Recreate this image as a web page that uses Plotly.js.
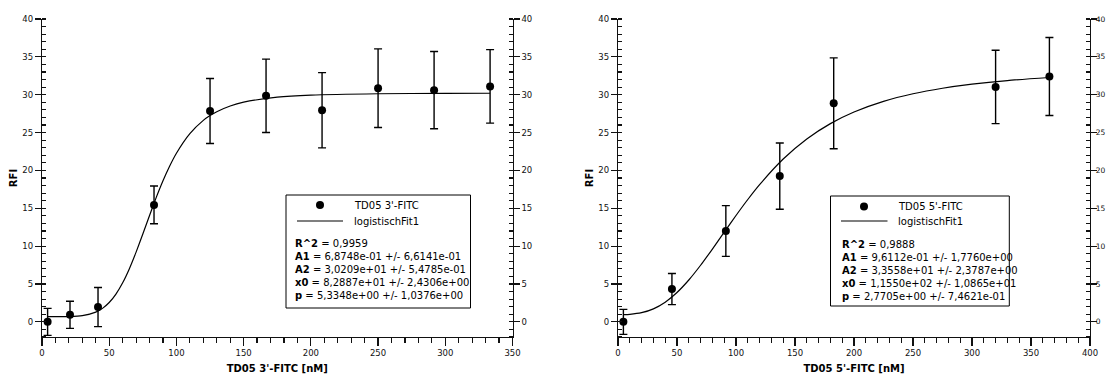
<!DOCTYPE html>
<html>
<head>
<meta charset="utf-8">
<script src="https://cdn.plot.ly/plotly-3.0.1.min.js"></script>
<style>
  html, body { margin: 0; padding: 0; background: #fff; }
  #chart { width: 1108px; height: 374px; }
</style>
</head>
<body>
<div id="chart"></div>
<script>
// ---- Left panel: TD05 3'-FITC ----
const conc3 = [4.17, 20.83, 41.67, 83.33, 125, 166.67, 208.33, 250, 291.67, 333.33];
const rfi3  = [0.0, 0.93, 1.95, 15.45, 27.85, 29.85, 27.95, 30.86, 30.6, 31.1];
const err3  = [1.78, 1.79, 2.58, 2.5, 4.3, 4.85, 4.97, 5.2, 5.1, 4.85];
const fitX3 = [4.17, 20, 30, 40, 45, 50, 55, 60, 65, 70, 75, 80, 85, 90, 95, 100, 110, 120, 125, 130, 140, 150, 175, 200, 250, 300, 333.33];
const fitY3 = [0.687, 0.702, 0.817, 1.281, 1.780, 2.553, 3.663, 5.157, 7.026, 9.211, 11.600, 14.056, 16.438, 18.639, 20.594, 22.277, 24.866, 26.608, 27.242, 27.756, 28.511, 29.013, 29.671, 29.943, 30.127, 30.178, 30.191];
const stats3 = ["<b>R^2</b> = 0,9959",
                "<b>A1</b> = 6,8748e-01 +/- 6,6141e-01",
                "<b>A2</b> = 3,0209e+01 +/- 5,4785e-01",
                "<b>x0</b> = 8,2887e+01 +/- 2,4306e+00",
                "<b>p</b> = 5,3348e+00 +/- 1,0376e+00"];

// ---- Right panel: TD05 5'-FITC ----
const conc5 = [4.57, 45.7, 91.4, 137.1, 182.8, 320, 365.6];
const rfi5  = [0.0, 4.33, 12.0, 19.25, 28.87, 31.03, 32.4];
const err5  = [1.65, 2.05, 3.35, 4.37, 6.0, 4.85, 5.15];
const fitX5 = [4.57, 10, 20, 30, 40, 50, 60, 70, 80, 90, 100, 110, 120, 140, 160, 180, 200, 225, 250, 275, 300, 330, 365.6];
const fitY5 = [0.965, 0.998, 1.212, 1.721, 2.602, 3.879, 5.529, 7.475, 9.617, 11.841, 14.049, 16.160, 18.122, 21.503, 24.155, 26.181, 27.714, 29.119, 30.125, 30.855, 31.396, 31.872, 32.272];
const stats5 = ["<b>R^2</b> = 0,9888",
                "<b>A1</b> = 9,6112e-01 +/- 1,7760e+00",
                "<b>A2</b> = 3,3558e+01 +/- 2,3787e+00",
                "<b>x0</b> = 1,1550e+02 +/- 1,0865e+01",
                "<b>p</b> = 2,7705e+00 +/- 7,4621e-01"];

const names = ["TD05 3'-FITC", "TD05 5'-FITC"];
const fitName = "logistischFit1";
const xTitles = ["<b>TD05 3'-FITC [nM]</b>", "<b>TD05 5'-FITC [nM]</b>"];
const yTitle = "<b>RFI</b>";

const W = 1108, H = 374;
const px = v => v / W;
const py = v => 1 - v / H;
const FONT = "DejaVu Sans, Verdana, sans-serif";
const INK = "#111";

function pointTrace(x, y, e, name, xa, ya) {
  return {
    type: 'scatter', mode: 'markers', x: x, y: y, name: name,
    xaxis: xa, yaxis: ya, showlegend: false,
    marker: { color: '#000', size: 8 },
    error_y: { type: 'data', array: e, visible: true, color: '#000', thickness: 1.4, width: 4 },
    cliponaxis: false
  };
}
function fitTrace(x, y, xa, ya) {
  return {
    type: 'scatter', mode: 'lines', x: x, y: y, name: fitName,
    xaxis: xa, yaxis: ya, showlegend: false,
    line: { color: '#000', width: 1.2, shape: 'spline', smoothing: 0.6 }
  };
}

// fit curves are drawn on the mirrored right-hand axes (identical range) so those axes render
const data = [
  pointTrace(conc3, rfi3, err3, names[0], 'x', 'y'),
  fitTrace(fitX3, fitY3, 'x', 'y2'),
  pointTrace(conc5, rfi5, err5, names[1], 'x2', 'y3'),
  fitTrace(fitX5, fitY5, 'x2', 'y4')
];

const yDom = [py(337), py(19)];
function xAxis(domain, range, title, anchor) {
  return {
    domain: domain, range: range, anchor: anchor,
    showline: true, linecolor: INK, linewidth: 1.2,
    showgrid: false, zeroline: false,
    ticks: 'outside', ticklen: 8, tickwidth: 1.2, tickcolor: INK,
    dtick: 50, tick0: 0,
    minor: { ticks: 'outside', ticklen: 5, tickwidth: 1.2, tickcolor: INK, dtick: 10, showgrid: false },
    tickfont: { family: FONT, size: 8.5, color: INK },
    title: { text: title, font: { family: FONT, size: 10, color: '#000' }, standoff: 10 }
  };
}
function yAxis(anchor, side, overlaying, title, fs, lso) {
  const a = {
    domain: yDom, range: [-2, 40], anchor: anchor, side: side,
    showline: true, linecolor: INK, linewidth: 1.2,
    showgrid: false, zeroline: false,
    ticks: 'outside', ticklen: 6, tickwidth: 1.2, tickcolor: INK,
    dtick: 5, tick0: 0,
    minor: { ticks: 'inside', ticklen: 4, tickwidth: 1.2, tickcolor: INK, dtick: 1, showgrid: false },
    tickfont: { family: FONT, size: fs || 8.5, color: INK },
    ticklabelstandoff: lso || 0,
    fixedrange: true
  };
  if (overlaying) a.overlaying = overlaying;
  if (title) a.title = { text: title, font: { family: FONT, size: 10, color: '#000' }, standoff: 2 };
  return a;
}

function txt(x, y, s) {
  return { xref: 'paper', yref: 'paper', x: px(x), y: py(y), xanchor: 'left', yanchor: 'middle',
           text: s, showarrow: false, align: 'left', font: { family: FONT, size: 10, color: '#000' } };
}
function statsAnn(x, yc, lines) {
  return txt(x, yc, lines.join('<br>'));
}
function keyDot(cx, cy) {
  return { type: 'circle', xref: 'paper', yref: 'paper', x0: px(cx - 4), x1: px(cx + 4), y0: py(cy + 4), y1: py(cy - 4),
           fillcolor: '#000', line: { color: '#000', width: 0 } };
}
function keyLine(x0, x1, y) {
  return { type: 'line', xref: 'paper', yref: 'paper', x0: px(x0), x1: px(x1), y0: py(y), y1: py(y),
           line: { color: '#000', width: 1.2 } };
}
function box(x0, x1, y0, y1) {
  return { type: 'rect', xref: 'paper', yref: 'paper', x0: px(x0), x1: px(x1), y0: py(y1), y1: py(y0),
           line: { color: '#000', width: 1 }, fillcolor: 'rgba(0,0,0,0)' };
}

const layout = {
  width: W, height: H,
  margin: { l: 0, r: 0, t: 0, b: 0 },
  paper_bgcolor: '#fff', plot_bgcolor: '#fff',
  font: { family: FONT, color: '#000' },
  showlegend: false,
  xaxis: xAxis([px(42), px(512.5)], [0, 350], xTitles[0], 'y'),
  yaxis: yAxis('x', 'left', null, yTitle),
  yaxis2: yAxis('x', 'right', 'y', null),
  xaxis2: xAxis([px(618), px(1090)], [0, 400], xTitles[1], 'y3'),
  yaxis3: yAxis('x2', 'left', null, yTitle),
  yaxis4: yAxis('x2', 'right', 'y3', null, 7.5, -3),
  shapes: [
    box(286, 470.5, 195, 308),
    box(830.5, 1009.3, 196, 306),
    keyDot(320, 205), keyLine(297, 343, 221),
    keyDot(864, 206.5), keyLine(841, 887.5, 221)
  ],
  annotations: [
    txt(352, 205, names[0]),
    txt(352, 221, fitName),
    statsAnn(293, 269.7, stats3),
    txt(896, 206.5, names[1]),
    txt(896, 221, fitName),
    statsAnn(840, 270.2, stats5)
  ]
};

Plotly.newPlot('chart', data, layout, { displayModeBar: false, staticPlot: true });
</script>
</body>
</html>
